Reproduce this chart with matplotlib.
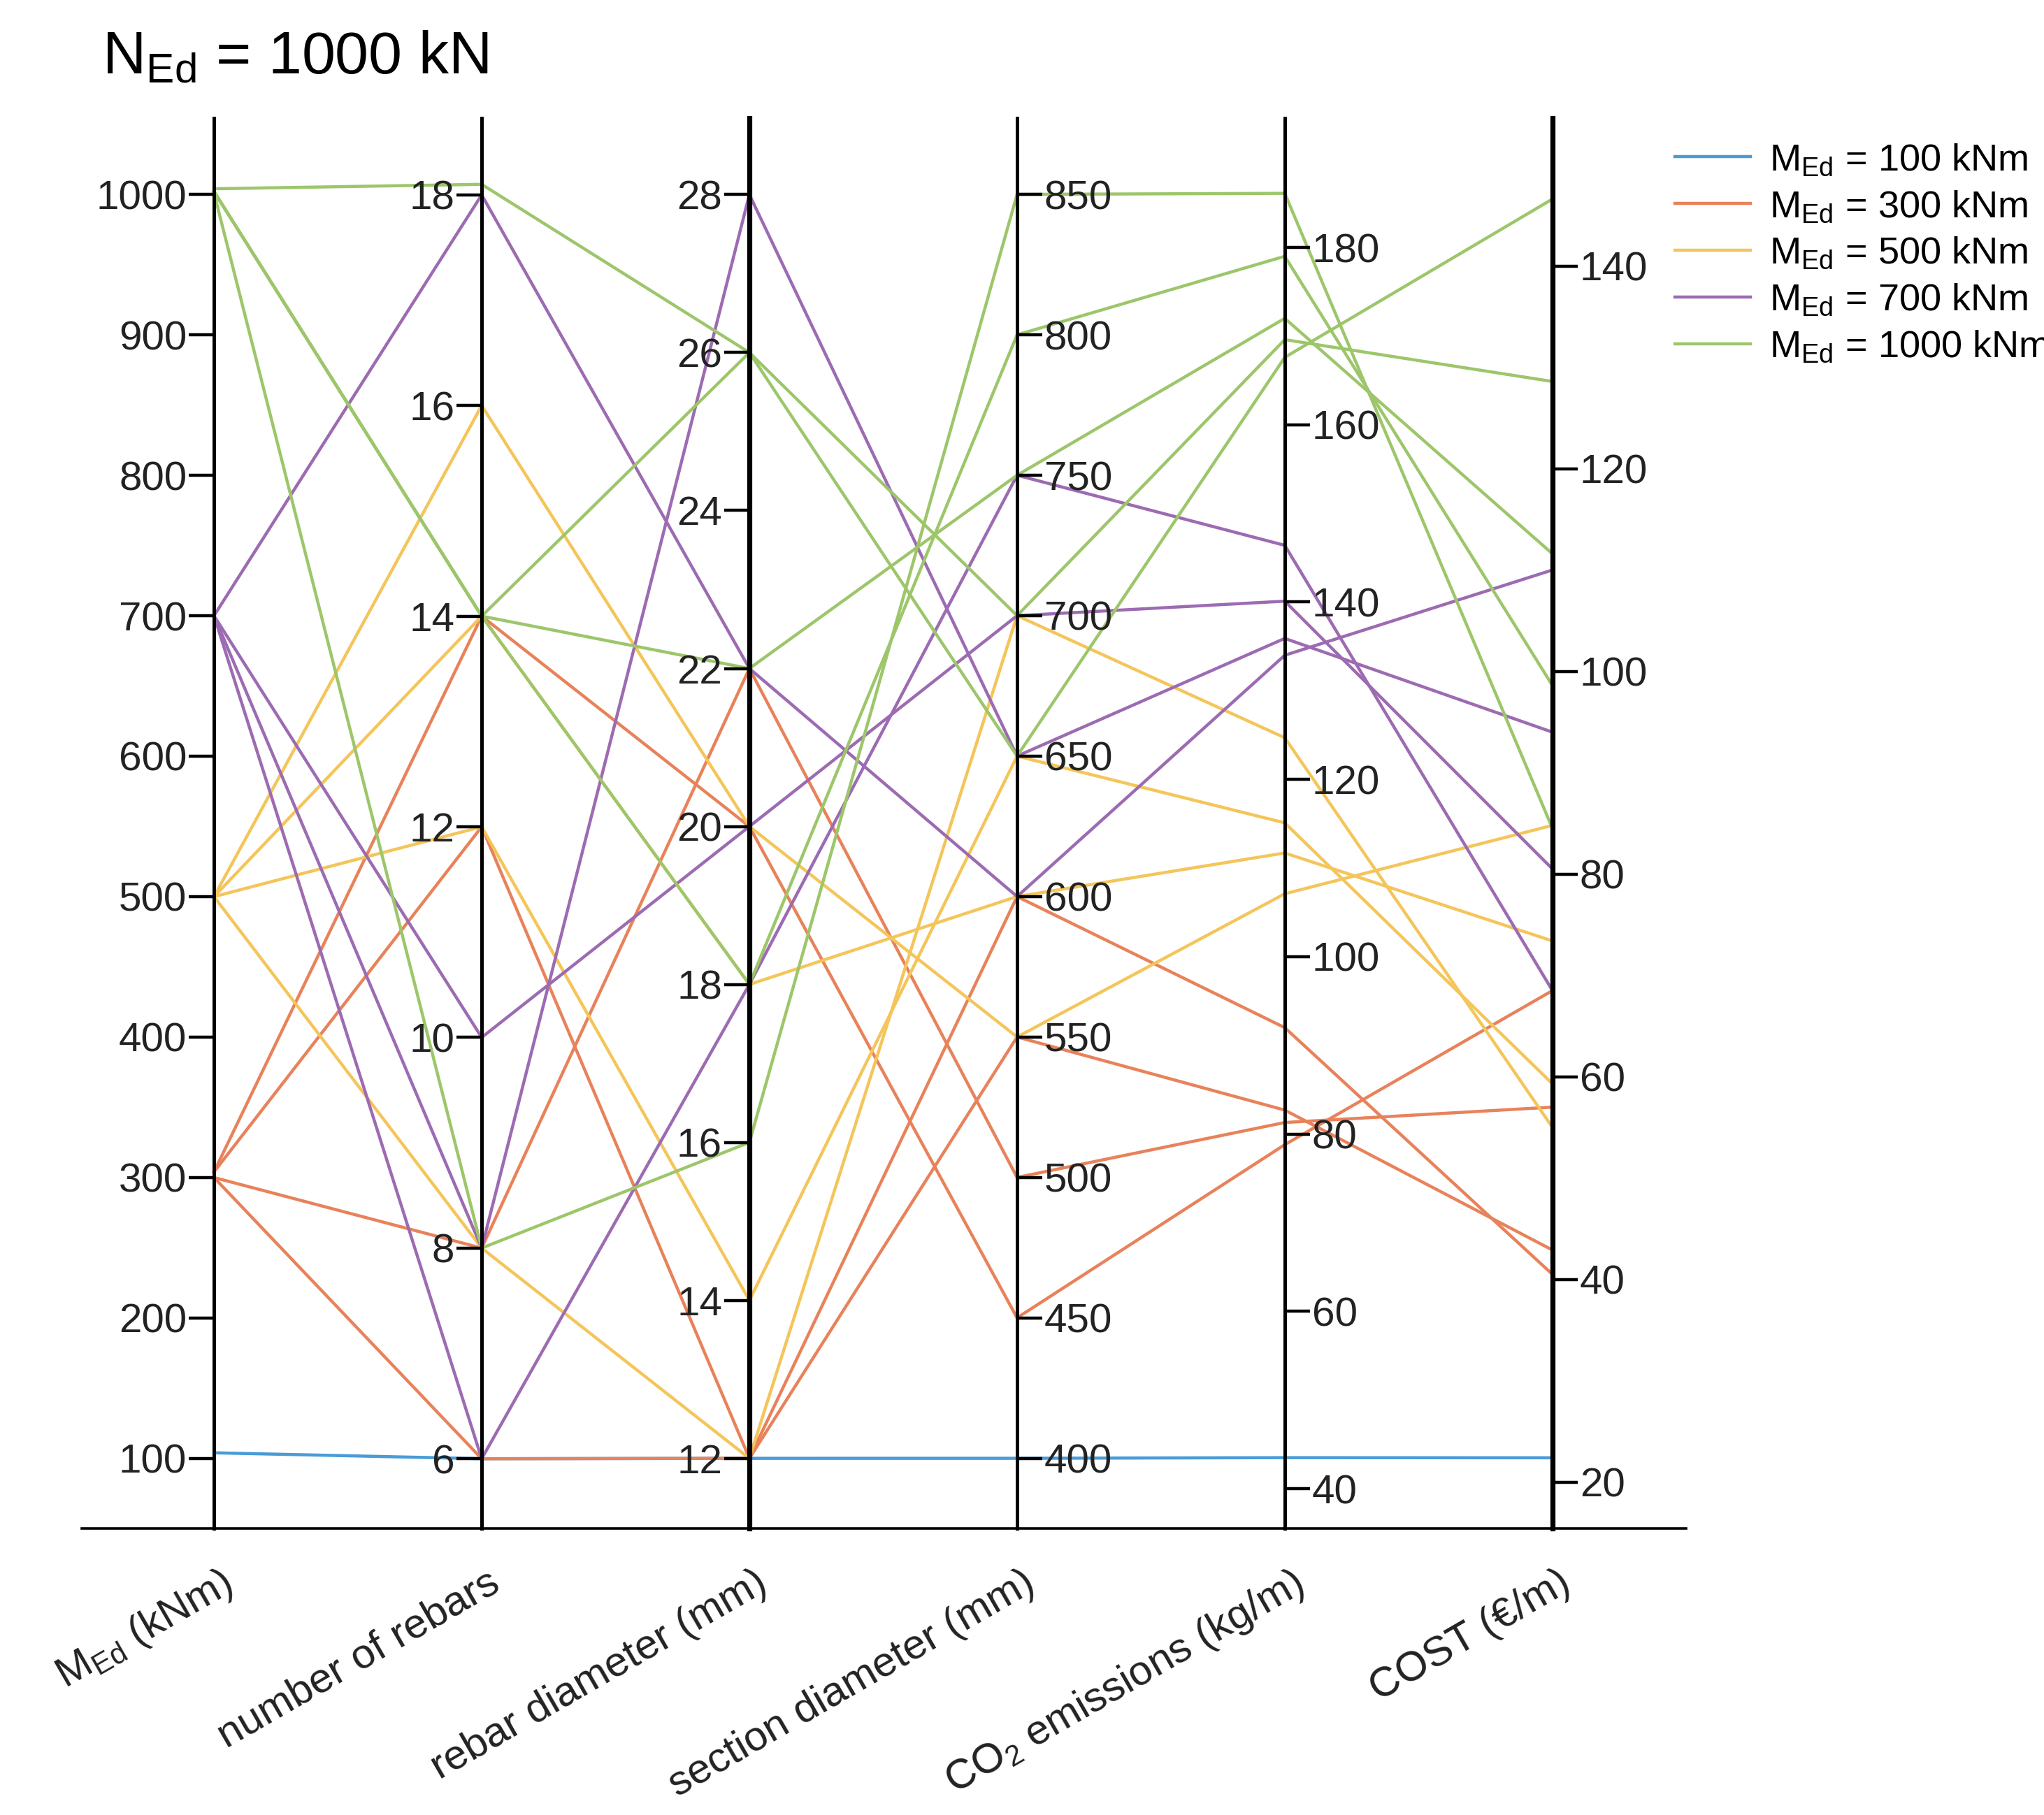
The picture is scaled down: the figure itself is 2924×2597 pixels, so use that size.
import matplotlib
matplotlib.use("Agg")
import matplotlib.pyplot as plt

plt.rcParams["font.family"] = "Liberation Sans"
plt.rcParams["mathtext.fontset"] = "custom"
plt.rcParams["mathtext.rm"] = "Liberation Sans"
plt.rcParams["mathtext.it"] = "Liberation Sans"

axis_labels = ["M$_{\\rm Ed}$ (kNm)", "number of rebars", "rebar diameter (mm)",
               "section diameter (mm)", "CO$_2$ emissions (kg/m)", "COST (\u20ac/m)"]
axis_lo = [50.3, 5.34, 11.115, 375.1, 35.54, 15.45]
axis_hi = [1054.4, 18.73, 28.97, 877.2, 194.6, 154.6]
axis_ticks = [list(range(100, 1001, 100)), list(range(6, 19, 2)), list(range(12, 29, 2)),
              list(range(400, 851, 50)), list(range(40, 181, 20)), list(range(20, 141, 20))]
tick_side = ["left", "left", "left", "right", "right", "right"]

group_names = ["M$_{\\rm Ed}$ = 100 kNm", "M$_{\\rm Ed}$ = 300 kNm", "M$_{\\rm Ed}$ = 500 kNm",
               "M$_{\\rm Ed}$ = 700 kNm", "M$_{\\rm Ed}$ = 1000 kNm"]
group_colors = ["#4A9BD6", "#E8825A", "#F4C55A", "#9C6BB2", "#9DC66B"]

blue_lines = [[104, 6, 12, 400, 43.5, 22.4]]
orange_lines = [[304, 14, 20, 450, 78.8, 68.5],
                [304, 12, 12, 600, 92.0, 40.5],
                [300, 8, 22, 500, 81.3, 57.0],
                [300, 6, 12, 550, 82.7, 42.9]]
yellow_lines = [[500, 16, 20, 550, 107.1, 84.8],
                [500, 14, 18, 600, 111.7, 73.4],
                [500, 12, 14, 650, 115.1, 59.3],
                [500, 8, 12, 700, 124.7, 55.0]]
purple_lines = [[700, 18, 22, 600, 134.0, 110.0],
                [700, 10, 20, 700, 140.1, 80.5],
                [700, 8, 28, 650, 135.9, 94.0],
                [700, 6, 18, 750, 146.4, 68.5]]
green_lines = [[1004, 18.1, 26, 700, 169.6, 128.6],
               [1002, 14, 26, 650, 167.6, 146.6],
               [1002, 14, 22, 750, 172.0, 111.6],
               [1002, 14, 18, 800, 179.0, 98.6],
               [1001, 8, 16, 850, 186.1, 84.5]]
groups = [blue_lines, orange_lines, yellow_lines, purple_lines, green_lines]

fig = plt.figure(figsize=(14.62, 12.985), dpi=200)
L, B, W, H = 0.040, 0.158, 0.785, 0.777
xmin, xmax = -0.494, 5.5
ax = fig.add_axes([L, B, W, H])
ax.set_xlim(xmin, xmax)
ax.set_ylim(0, 1)
for s in ["top", "right", "left"]:
    ax.spines[s].set_visible(False)
ax.spines["bottom"].set_linewidth(1.3)
ax.set_xticks([])
ax.set_yticks([])

xs = list(range(6))
for gi, lines in enumerate(groups):
    for k, vals in enumerate(lines):
        ys = [(v - axis_lo[i]) / (axis_hi[i] - axis_lo[i]) for i, v in enumerate(vals)]
        ax.plot(xs, ys, color=group_colors[gi], lw=1.6, zorder=2 + gi,
                label=group_names[gi] if k == 0 else None, clip_on=False)

for i in range(6):
    xpos = L + W * (i - xmin) / (xmax - xmin)
    a = fig.add_axes([xpos, B, 0.00001, H])
    a.set_ylim(axis_lo[i], axis_hi[i])
    a.patch.set_visible(False)
    a.set_xticks([])
    for s in ["top", "bottom", "left", "right"]:
        a.spines[s].set_visible(False)
    side = tick_side[i]
    a.spines[side].set_visible(True)
    a.spines[side].set_linewidth(2.6 if i in (2, 5) else 1.8)
    a.spines[side].set_zorder(10)
    a.yaxis.set_ticks_position(side)
    a.yaxis.set_label_position(side)
    a.set_yticks(axis_ticks[i])
    a.tick_params(axis="y", length=13, width=1.6, labelsize=21, pad=1, direction="out",
                  labelcolor="#222222")
    ax.text(i + 0.02, -0.025, axis_labels[i], rotation=30, ha="right", va="top",
            fontsize=21.5, rotation_mode="anchor", color="#222222")

fig.text(0.050, 0.968, "N$_{\\rm Ed}$ = 1000 kN", fontsize=31, ha="left", va="center")
ax.legend(loc="upper left", bbox_to_anchor=(0.812, 0.93), bbox_transform=fig.transFigure,
          frameon=False, fontsize=19.5, handlelength=2.0, handletextpad=0.5, labelspacing=0.3,
          borderaxespad=0)

fig.savefig("out.png", dpi=200)
